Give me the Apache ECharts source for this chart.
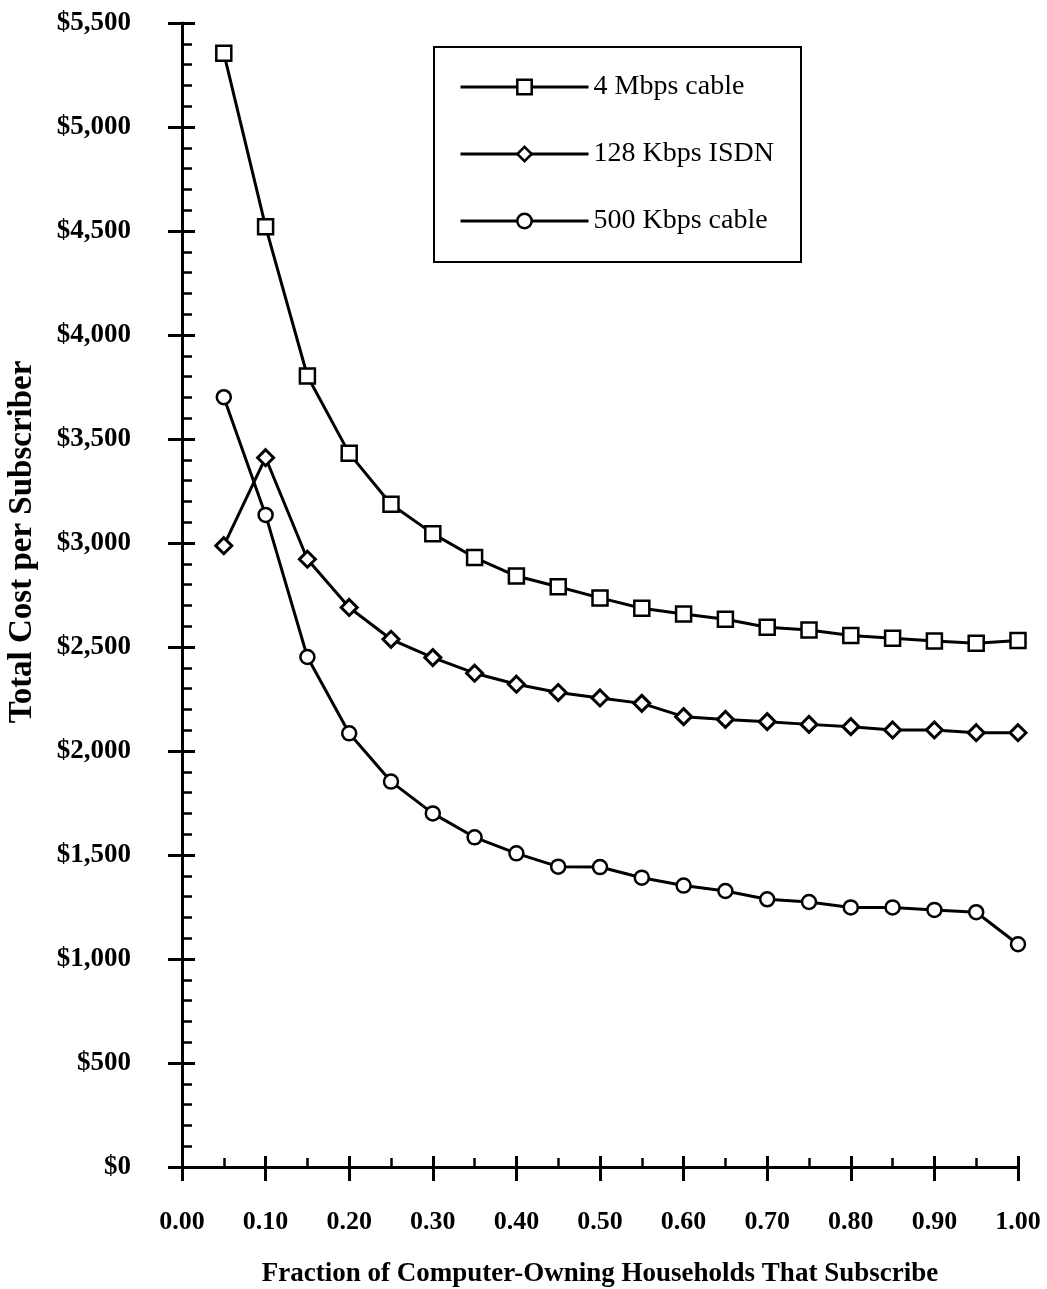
<!DOCTYPE html>
<html><head><meta charset="utf-8">
<script src="https://cdn.jsdelivr.net/npm/echarts@6/dist/echarts.min.js"></script>
<style>html,body{margin:0;padding:0;background:#fff}#c{width:1047px;height:1289px}</style>
</head><body><div id="c"></div>
<script>
const xValues = [0.05,0.10,0.15,0.20,0.25,0.30,0.35,0.40,0.45,0.50,0.55,0.60,0.65,0.70,0.75,0.80,0.85,0.90,0.95,1.00];
const cable4M = [5355,4521,3803,3431,3186,3045,2930,2841,2790,2736,2686,2659,2633,2595,2582,2555,2542,2529,2518,2531];
const isdn128K = [2987,3410,2922,2690,2537,2449,2374,2321,2281,2255,2229,2165,2152,2141,2128,2117,2101,2101,2088,2088];
const cable500K = [3701,3135,2452,2085,1853,1700,1585,1508,1444,1442,1391,1353,1327,1287,1274,1248,1248,1236,1225,1071];
const seriesNames = ['4 Mbps cable','128 Kbps ISDN','500 Kbps cable'];
const xAxisTitle = 'Fraction of Computer-Owning Households That Subscribe';
const yAxisTitle = 'Total Cost per Subscriber';

const FONT = '"Liberation Serif", "Times New Roman", serif';
const chart = echarts.init(document.getElementById('c'), null, {renderer:'canvas'});
const pairs = arr => xValues.map((x,i)=>[x, arr[i]]);
const lineBase = {type:'line', xAxisIndex:0, yAxisIndex:0, lineStyle:{color:'#000', width:3}, emphasis:{disabled:true}, z:3};
const tickStyle = {color:'#000', width:3};

chart.setOption({
  animation:false,
  backgroundColor:'#fff',
  grid:{left:182, right:29, top:23, bottom:122, containLabel:false, outerBoundsMode:'none'},
  graphic:[{type:'rect', z:1, shape:{x:434, y:47, width:367, height:215}, style:{fill:'#fff', stroke:'#000', lineWidth:2}}],
  legend:{
    orient:'vertical', left:454, top:68, itemWidth:128, itemHeight:18, itemGap:43-4,
    lineStyle:{width:3, color:'#000'},
    itemStyle:{borderWidth:2.5, borderColor:'#000', color:'#fff'},
    textStyle:{fontFamily:FONT, fontSize:28, color:'#000', lineHeight:24},
    data:seriesNames
  },
  xAxis:[
    {type:'value', min:0, max:1, interval:0.1, position:'bottom',
     axisLine:{lineStyle:tickStyle}, axisTick:{inside:true, length:11, lineStyle:tickStyle},
     minorTick:{show:true, splitNumber:2, length:9, lineStyle:{color:'#000', width:2.5}},
     splitLine:{show:false}, minorSplitLine:{show:false},
     axisLabel:{formatter:v=>v.toFixed(2), margin:42, fontFamily:FONT, fontSize:26, fontWeight:'bold', color:'#000'},
     name:xAxisTitle, nameLocation:'middle', nameGap:94,
     nameTextStyle:{fontFamily:FONT, fontSize:27, fontWeight:'bold', color:'#000'}},
    {type:'value', min:0, max:1, interval:0.1, position:'bottom', offset:0,
     axisLine:{show:false}, axisTick:{inside:false, length:14, lineStyle:tickStyle},
     axisLabel:{show:false}, splitLine:{show:false}}
  ],
  yAxis:[
    {type:'value', min:0, max:5500, interval:500, position:'left',
     axisLine:{show:true, lineStyle:tickStyle}, axisTick:{show:true, inside:true, length:13, lineStyle:tickStyle},
     minorTick:{show:true, splitNumber:5, length:10, lineStyle:{color:'#000', width:2.5}},
     splitLine:{show:false}, minorSplitLine:{show:false},
     axisLabel:{formatter:v=>'$'+v.toLocaleString('en-US'), margin:51, fontFamily:FONT, fontSize:27, fontWeight:'bold', color:'#000'},
     name:yAxisTitle, nameLocation:'middle', nameGap:143,
     nameTextStyle:{fontFamily:FONT, fontSize:33, fontWeight:'bold', color:'#000', padding:[0,0,0,106]}},
    {type:'value', min:0, max:5500, interval:500, position:'left', offset:0,
     axisLine:{show:false}, axisTick:{show:true, inside:false, length:14, lineStyle:tickStyle},
     axisLabel:{show:false}, splitLine:{show:false}}
  ],
  series:[
    Object.assign({}, lineBase, {name:seriesNames[0], data:pairs(cable4M), symbol:'rect', symbolSize:15,
      itemStyle:{color:'#fff', borderColor:'#000', borderWidth:2.5}}),
    Object.assign({}, lineBase, {name:seriesNames[1], data:pairs(isdn128K), symbol:'diamond', symbolSize:16,
      itemStyle:{color:'#fff', borderColor:'#000', borderWidth:3}}),
    Object.assign({}, lineBase, {name:seriesNames[2], data:pairs(cable500K), symbol:'circle', symbolSize:14,
      itemStyle:{color:'#fff', borderColor:'#000', borderWidth:2.5}})
  ]
});
</script></body></html>
